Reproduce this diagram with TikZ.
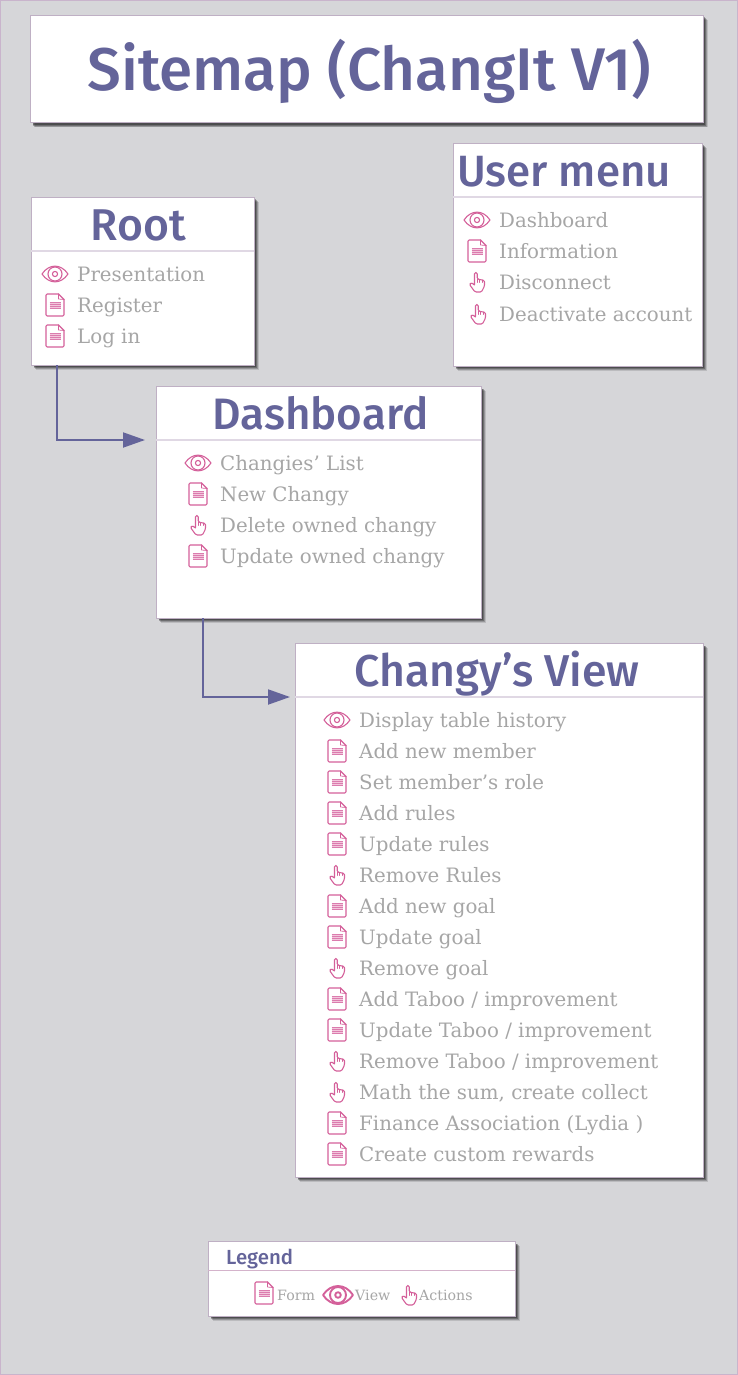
\documentclass[tikz,border=0pt]{standalone}
\usepackage{fontspec}
\usetikzlibrary{shadows,arrows.meta}
\setmainfont{DejaVu Serif}
\newfontfamily\headfont{Fira Sans}[UprightFont=* Medium]
\definecolor{pagebg}{HTML}{D6D6D9}
\definecolor{pageedge}{HTML}{C9B4CC}
\definecolor{navy}{HTML}{64649A}
\definecolor{pink}{HTML}{D4609A}
\definecolor{formfill}{HTML}{F3C6DC}
\definecolor{formlines}{HTML}{DB7CAE}
\definecolor{bodygrey}{HTML}{A6A6A6}
\definecolor{rulecol}{HTML}{E0D8E4}
\definecolor{panelline}{HTML}{BFB0C4}
\tikzset{
  x=1pt,y=-1pt,
  panel/.style={draw=panelline,line width=.8pt,fill=white,anchor=north west,inner sep=0pt,
    general shadow={shadow xshift=4.6pt,shadow yshift=-4.6pt,fill=black,opacity=.12},
    general shadow={shadow xshift=3.8pt,shadow yshift=-3.8pt,fill=black,opacity=.2},
    general shadow={shadow xshift=3pt,shadow yshift=-3pt,fill=black,opacity=.26},
    general shadow={shadow xshift=2.1pt,shadow yshift=-2.1pt,fill=black,opacity=.3}},
  heading/.style={anchor=base,inner sep=0pt,text=navy,font=\headfont\fontsize{#1}{#1}\selectfont},
  divider/.style={draw=rulecol,line width=2pt},
  thindivider/.style={draw=rulecol!70!pink!70!panelline,line width=1pt},
  entry/.style={anchor=base west,inner sep=0pt,text=bodygrey,font=\fontsize{19.8}{23}\selectfont},
  legendentry/.style={anchor=base west,inner sep=0pt,text=bodygrey,font=\fontsize{14.2}{16}\selectfont},
  connector/.style={draw=navy,line width=1.9pt,-{Triangle[length=22pt,width=15pt]}},
  iconline/.style={draw=pink,line width=1.1pt,line join=round,line cap=round},
  form/.pic={
    \draw[iconline,rounded corners=1.2pt] (3.5,-11)--(-9,-11)--(-9,11)--(9,11)--(9,-5.5);
    \draw[iconline] (3.5,-11)--(9,-5.5);
    \draw[iconline,line width=.7pt] (3.5,-11)--(3.5,-6)--(9,-5.5);
    \fill[formfill] (-5.5,-3) rectangle (5.5,3.6);
    \draw[draw=formlines,line width=.6pt] (-5.5,-2.6)--(5.5,-2.6) (-5.5,-.4)--(5.5,-.4) (-5.5,1.3)--(5.5,1.3) (-5.5,3.2)--(5.5,3.2);
  },
  eye/.pic={
    \draw[iconline] (-13,0) .. controls (-6,-10.5) and (6,-10.5) .. (13,0) .. controls (6,10.5) and (-6,10.5) .. (-13,0) -- cycle;
    \draw[iconline] (0,0) circle[radius=7];
    \draw[iconline] (0,0) circle[radius=2.6];
  },
  bigeye/.pic={
    \draw[iconline,line width=1.9pt] (-15,0) .. controls (-7,-12) and (7,-12) .. (15,0) .. controls (7,12) and (-7,12) .. (-15,0) -- cycle;
    \draw[iconline,line width=1.9pt] (0,0) circle[radius=8];
    \draw[iconline,line width=1.9pt] (0,0) circle[radius=2.8];
  },
  hand/.pic={
    \draw[iconline,rounded corners=1.3pt] (-2.5,2.5) -- (-2.5,-9.5) -- (0.2,-9.5) -- (0.2,-3) -- (7.5,-1.5) -- (7.5,4) -- (4.5,10) -- (-2,10) -- (-7.5,2.5) -- (-6,0.5) -- (-2.5,3);
    \draw[iconline,line width=.7pt] (0.2,-3)--(0.2,0.5) (2.6,-2.6)--(2.6,0.5) (5,-2)--(5,0.5);
  },
}
\newcommand{\entryrow}[6]{%
  \path (#3,#4) pic {#2};
  \node[entry] (#1) at (#5,#4+7) {#6};
}
\begin{document}
\begin{tikzpicture}
\useasboundingbox (0,0) rectangle (738,1375);
\draw[fill=pagebg,draw=pageedge,line width=1pt] (.5,.5) rectangle (737.5,1374.5);

% panels
\node[panel,minimum width=672.5pt,minimum height=107.5pt] (titlebox) at (30,15) {};
\node[panel,minimum width=222.5pt,minimum height=167.5pt] (rootbox) at (31,197) {};
\node[panel,minimum width=248.5pt,minimum height=222.5pt] (userbox) at (453,143) {};
\node[panel,minimum width=324.5pt,minimum height=231.5pt] (dashbox) at (156,386) {};
\node[panel,minimum width=407.5pt,minimum height=533.5pt] (viewbox) at (295,643) {};
\node[panel,minimum width=306.5pt,minimum height=74.5pt] (legendbox) at (208,1241) {};

% headings
\node[heading=60.2] (titletext) at (369,91) {Sitemap (ChangIt V1)};
\node[heading=44.5] (roothead) at (138.5,240) {Root};
\node[heading=43.8] (userhead) at (564,186) {User menu};
\node[heading=44] (dashhead) at (320.5,429.5) {Dashboard};
\node[heading=44.6] (viewhead) at (497,686.5) {Changy’s View};
\node[heading=20.4,anchor=base west] (legendhead) at (226,1264) {Legend};

% dividers
\draw[divider] (rootbox.west |- 0,251) -- (rootbox.east |- 0,251);
\draw[divider] (userbox.west |- 0,197) -- (userbox.east |- 0,197);
\draw[divider] (dashbox.west |- 0,440) -- (dashbox.east |- 0,440);
\draw[divider] (viewbox.west |- 0,697) -- (viewbox.east |- 0,697);
\draw[thindivider] (legendbox.west |- 0,1270) -- (legendbox.east |- 0,1270);

% root
\entryrow{r1}{eye}{55}{274}{77}{Presentation}
\entryrow{r2}{form}{55}{305}{77}{Register}
\entryrow{r3}{form}{55}{336}{77}{Log in}
% user menu
\entryrow{u1}{eye}{477}{220}{499}{Dashboard}
\entryrow{u2}{form}{477}{251}{499}{Information}
\entryrow{u3}{hand}{477}{282}{499}{Disconnect}
\entryrow{u4}{hand}{478}{314}{499}{Deactivate account}
% dashboard
\entryrow{d1}{eye}{198}{463}{220}{Changies’ List}
\entryrow{d2}{form}{198}{494}{220}{New Changy}
\entryrow{d3}{hand}{198}{525}{220}{Delete owned changy}
\entryrow{d4}{form}{198}{556}{220}{Update owned changy}
% changy's view
\entryrow{v1}{eye}{337}{720}{359}{Display table history}
\entryrow{v2}{form}{337}{751}{359}{Add new member}
\entryrow{v3}{form}{337}{782}{359}{Set member’s role}
\entryrow{v4}{form}{337}{813}{359}{Add rules}
\entryrow{v5}{form}{337}{844}{359}{Update rules}
\entryrow{v6}{hand}{337}{875}{359}{Remove Rules}
\entryrow{v7}{form}{337}{906}{359}{Add new goal}
\entryrow{v8}{form}{337}{937}{359}{Update goal}
\entryrow{v9}{hand}{337}{968}{359}{Remove goal}
\entryrow{v10}{form}{337}{999}{359}{Add Taboo / improvement}
\entryrow{v11}{form}{337}{1030}{359}{Update Taboo / improvement}
\entryrow{v12}{hand}{337}{1061}{359}{Remove Taboo / improvement}
\entryrow{v13}{hand}{337}{1092}{359}{Math the sum, create collect}
\entryrow{v14}{form}{337}{1123}{359}{Finance Association (Lydia )}
\entryrow{v15}{form}{337}{1154}{359}{Create custom rewards}

% legend
\path (264,1293) pic {form};
\node[legendentry] (lform) at (277,1300) {Form};
\path (338,1295) pic {bigeye};
\node[legendentry] (lview) at (355,1300) {View};
\path (409,1295) pic {hand};
\node[legendentry] (lact) at (419,1300) {Actions};

% connectors
\coordinate (rootout) at (57,365);
\coordinate (dashin) at (145,440);
\coordinate (dashout) at (203,618);
\coordinate (viewin) at (290,697);
\draw[connector] (rootout) |- (dashin);
\draw[connector] (dashout) |- (viewin);
\end{tikzpicture}
\end{document}
